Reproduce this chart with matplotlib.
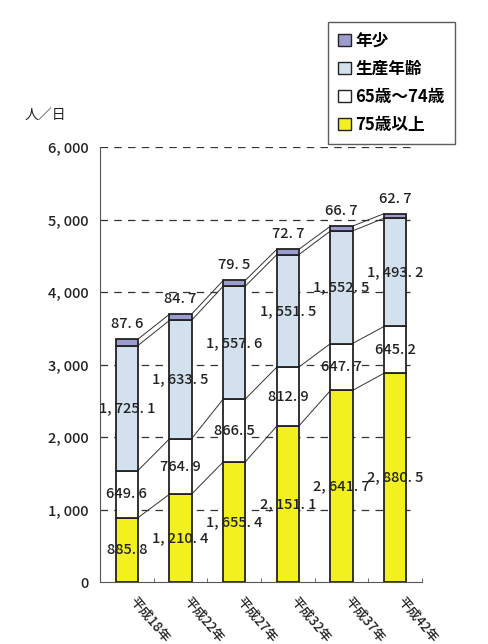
import matplotlib
matplotlib.use("Agg")
import matplotlib.pyplot as plt
import numpy as np
from matplotlib.patches import Patch

plt.rcParams['font.family'] = ['Noto Sans CJK JP', 'DejaVu Sans']

categories = ["平成18年", "平成22年", "平成27年", "平成32年", "平成37年", "平成42年"]
age75 = [885.8, 1210.4, 1655.4, 2151.1, 2641.7, 2880.5]
age65_74 = [649.6, 764.9, 866.5, 812.9, 647.7, 645.2]
working = [1725.1, 1633.5, 1557.6, 1551.5, 1552.5, 1493.2]
youth = [87.6, 84.7, 79.5, 72.7, 66.7, 62.7]
series_names = ["75歳以上", "65歳～74歳", "生産年齢", "年少"]
yticks = [0, 1000, 2000, 3000, 4000, 5000, 6000]
ytick_labels = ["0", "1, 000", "2, 000", "3, 000", "4, 000", "5, 000", "6, 000"]

colors = ["#F2F01E", "#FFFFFF", "#D3E1EE", "#9C9CCF"]
edge = "#222222"

def fmt(v):
    return f"{v:,.1f}".replace(",", ", ").replace(".", ". ")

fig = plt.figure(figsize=(4.88, 6.44), dpi=100)
ax = fig.add_axes([100/488, 1-582/644, 322/488, 435/644])

x = np.arange(len(categories))
w = 0.41
series = [age75, age65_74, working, youth]
bottom = np.zeros(len(categories))
cums = []
for vals, c in zip(series, colors):
    vals = np.array(vals)
    ax.bar(x, vals, w, bottom=bottom, color=c, edgecolor=edge, linewidth=1.3, zorder=3)
    bottom = bottom + vals
    cums.append(bottom.copy())

# connecting lines
for cum in cums:
    for i in range(len(x) - 1):
        ax.plot([x[i] + w/2, x[i+1] - w/2], [cum[i], cum[i+1]], color="#333333", lw=0.7, zorder=2)

# labels
fs = 10.5
b = np.zeros(len(categories))
for si, vals in enumerate(series[:3]):
    for i, v in enumerate(vals):
        ax.text(x[i], b[i] + v/2, fmt(v), ha="center", va="center", fontsize=fs, color="#222222",
                fontweight="medium", zorder=4)
    b = b + np.array(vals)
for i, v in enumerate(youth):
    ax.text(x[i], cums[3][i] + 110, fmt(v), ha="center", va="bottom", fontsize=fs, color="#222222",
            fontweight="medium", zorder=4)

ax.set_xlim(-0.5, len(categories) - 0.5)
ax.set_ylim(0, 6000)
ax.set_yticks(yticks)
ax.set_yticklabels(ytick_labels, fontsize=10.5, color="#222222", fontweight="medium")
for yv in yticks[1:]:
    ax.plot([-0.5, 5.38], [yv, yv], color="#333333", lw=0.9, ls=(0, (6, 5)), zorder=1)
ax.set_xticks(np.arange(len(categories) + 1) - 0.5, minor=True)
ax.set_xticks([])
ax.tick_params(axis="x", which="minor", direction="in", length=3, color="#555555")
ax.tick_params(axis="y", length=0, pad=8)
for s in ["top", "right"]:
    ax.spines[s].set_visible(False)
ax.spines["left"].set_color("#555555")
ax.spines["bottom"].set_color("#555555")

for i, c in enumerate(categories):
    ax.text(x[i] + 0.1, -230, c, rotation=-50, rotation_mode="anchor", ha="left", va="center",
            fontsize=9.5, color="#222222", fontweight="medium")

fig.text(25/488, 1-115/644, "人／日", fontsize=10, color="#222222", va="center")

handles = [Patch(facecolor=colors[3], edgecolor=edge),
           Patch(facecolor=colors[2], edgecolor=edge),
           Patch(facecolor=colors[1], edgecolor=edge),
           Patch(facecolor=colors[0], edgecolor=edge)]
labels = ["年少", "生産年齢", "65歳～74歳", "75歳以上"]
leg = fig.legend(handles, labels, loc="upper left", bbox_to_anchor=(328/488, 1-22/644),
                 frameon=True, fancybox=False, handlelength=0.75, handleheight=0.75,
                 handletextpad=0.3, labelspacing=0.6, borderpad=0.6, borderaxespad=0,
                 prop={'weight': 'bold', 'size': 12})
leg.get_frame().set_edgecolor("#333333")
leg.get_frame().set_linewidth(1.0)

fig.savefig("out.png", dpi=100)
